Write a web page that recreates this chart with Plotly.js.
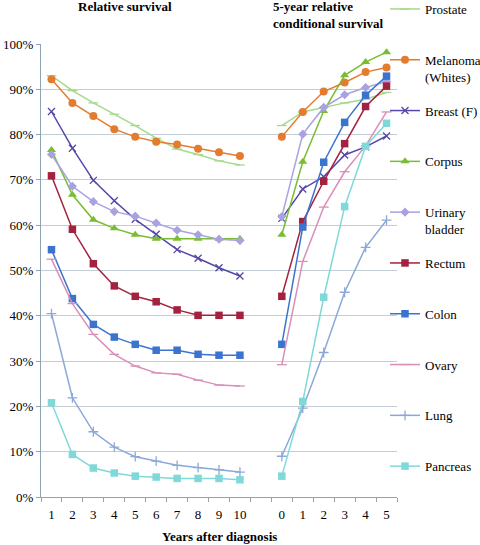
<!DOCTYPE html>
<html>
<head>
<meta charset="utf-8">
<script src="https://cdn.plot.ly/plotly-3.0.1.min.js"></script>
<style>html,body{margin:0;padding:0;background:#fff;}#chart{width:480px;height:545px;}</style>
</head>
<body>
<div id="chart"></div>
<script>
// Categories
const yearsSurvival = ['1','2','3','4','5','6','7','8','9','10'];
const yearsConditional = ['0','1','2','3','4','5'];

// Series names (legend)
const seriesNames = ['Prostate','Melanoma<br>(Whites)','Breast (F)','Corpus','Urinary<br>bladder','Rectum','Colon','Ovary','Lung','Pancreas'];

// Relative survival (%) at years 1..10
const relProstate = [93.0, 89.7, 87.0, 84.5, 82.0, 79.2, 76.8, 75.6, 74.2, 73.3];
const relMelanoma = [92.2, 87.0, 84.1, 81.2, 79.5, 78.4, 77.8, 76.9, 76.1, 75.3];
const relBreast   = [85.1, 77.0, 69.9, 65.4, 61.3, 58.0, 54.6, 52.7, 50.6, 48.8];
const relCorpus   = [76.6, 66.7, 61.2, 59.3, 57.9, 57.0, 57.0, 57.0, 57.0, 57.0];
const relUrinary  = [75.6, 68.6, 65.2, 63.0, 62.0, 60.5, 58.9, 57.9, 56.9, 56.6];
const relRectum   = [70.9, 59.1, 51.5, 46.6, 44.3, 43.1, 41.3, 40.1, 40.1, 40.1];
const relColon    = [54.6, 43.8, 38.1, 35.3, 33.7, 32.4, 32.4, 31.5, 31.3, 31.3];
const relOvary    = [52.5, 42.7, 35.9, 31.5, 28.9, 27.4, 27.1, 25.8, 24.7, 24.5];
const relLung     = [40.5, 21.9, 14.4, 11.0, 8.9, 7.9, 7.0, 6.5, 6.0, 5.5];
const relPancreas = [20.8, 9.4, 6.4, 5.3, 4.6, 4.4, 4.1, 4.1, 4.1, 3.8];

// 5-year relative conditional survival (%) at years survived 0..5
const condProstate = [82.0, 85.0, 86.0, 87.0, 87.8, 89.3];
const condMelanoma = [79.5, 85.0, 89.5, 91.5, 93.8, 94.8];
const condBreast   = [61.5, 68.0, 70.7, 75.5, 77.3, 79.7];
const condCorpus   = [57.9, 74.0, 85.2, 93.1, 96.0, 98.2];
const condUrinary  = [61.9, 80.1, 86.0, 88.8, 90.4, 91.7];
const condRectum   = [44.3, 60.8, 69.7, 78.0, 86.2, 90.7];
const condColon    = [33.7, 59.6, 73.9, 82.7, 88.7, 92.9];
const condOvary    = [29.2, 52.0, 64.0, 71.8, 77.5, 85.0];
const condLung     = [9.0, 19.6, 31.9, 45.2, 55.1, 61.1];
const condPancreas = [4.6, 21.1, 44.1, 64.1, 77.4, 82.5];

const relAll  = [relProstate, relMelanoma, relBreast, relCorpus, relUrinary, relRectum, relColon, relOvary, relLung, relPancreas];
const condAll = [condProstate, condMelanoma, condBreast, condCorpus, condUrinary, condRectum, condColon, condOvary, condLung, condPancreas];

// Styles
const colors  = ['#a6d98c','#e37c2f','#5447a8','#78bd32','#a8a2e0','#a3223f','#3a74cf','#d98eb8','#8ca8d8','#7fd9d9'];
const symbols = ['line-ew','circle','x-thin','triangle-up','diamond','square','square','line-ew','cross-thin','square'];
const msizes  = [7, 8, 7, 8, 7, 7.5, 7.5, 7, 7, 7.5];

// Category positions: left block, one empty slot, right block
const nLeft = yearsSurvival.length;
const catIndex = [];
const catLabels = [];
yearsSurvival.forEach((c, i) => { catIndex.push(i); catLabels.push(c); });
yearsConditional.forEach((c, j) => { catIndex.push(nLeft + 1 + j); catLabels.push(c); });
const xs = [];
for (let i = 0; i < nLeft; i++) xs.push(i);
xs.push(nLeft); // gap slot
for (let j = 0; j < yearsConditional.length; j++) xs.push(nLeft + 1 + j);
const nCats = nLeft + 1 + yearsConditional.length;
const boundaries = [];
for (let k = 0; k <= nCats; k++) boundaries.push(k - 0.5);

const serif = 'Liberation Serif';

const traces = seriesNames.map((name, s) => {
  const ys = relAll[s].concat([null]).concat(condAll[s]);
  const isThin = ['line-ew','x-thin','cross-thin'].includes(symbols[s]);
  return {
    type: 'scatter', mode: 'lines+markers',
    name: name + (name.includes('<br>') ? '' : '<br>\u00a0'),
    legendgroup: 'g' + s,
    x: xs, y: ys, connectgaps: false,
    line: {color: colors[s], width: 1.5},
    marker: {symbol: symbols[s], size: msizes[s], color: colors[s],
             line: {color: colors[s], width: isThin ? 1.3 : 0}},
    hoverinfo: 'skip'
  };
});

// pixel helpers for placing text boxes
const L = 41, R = 397, T = 44, B = 497;
const px2x = p => (p - L) / (R - L);
const px2y = p => (B - p) / (B - T);

const layout = {
  width: 480, height: 545,
  margin: {l: L, r: 480 - R, t: T, b: 545 - B, autoexpand: false},
  paper_bgcolor: '#fff', plot_bgcolor: '#fff',
  font: {family: serif, size: 13, color: '#000'},
  showlegend: true,
  legend: {
    x: px2x(385), xanchor: 'left', y: px2y(-6), yanchor: 'top',
    traceorder: 'grouped', tracegroupgap: 14, valign: 'top',
    maxheight: 545,
    bgcolor: 'rgba(0,0,0,0)', borderwidth: 0,
    font: {family: serif, size: 13, color: '#000'}
  },
  xaxis: {
    type: 'linear', range: [-0.5, nCats - 0.5], fixedrange: true,
    tickmode: 'array', tickvals: catIndex, ticktext: catLabels,
    ticks: '', showgrid: false, zeroline: false, ticklabelstandoff: 5,
    showline: true, linecolor: '#8ea3b3', linewidth: 1,
    tickfont: {family: serif, size: 13, color: '#000'},
    minor: {tickmode: 'array', tickvals: boundaries, ticks: 'outside', ticklen: 4, tickcolor: '#8ea3b3', tickwidth: 1, showgrid: false}
  },
  yaxis: {
    range: [0, 100], fixedrange: true, tickmode: 'linear', tick0: 0, dtick: 10,
    ticksuffix: '%', ticks: 'outside', ticklen: 4, tickcolor: '#8ea3b3',
    showgrid: true, gridcolor: '#c3cdd4', gridwidth: 1, zeroline: false,
    showline: true, linecolor: '#8ea3b3', linewidth: 1,
    tickfont: {family: serif, size: 13, color: '#000'}
  },
  annotations: [
    {text: '<b>Relative survival</b>', xref: 'paper', yref: 'paper', x: px2x(124.5), y: px2y(6),
     xanchor: 'center', yanchor: 'middle', showarrow: false, font: {family: serif, size: 13, color: '#000'}},
    {text: '<b>5-year relative<br>conditional survival</b>', xref: 'paper', yref: 'paper', x: px2x(271), y: px2y(14.5),
     xanchor: 'left', yanchor: 'middle', align: 'left', showarrow: false, font: {family: serif, size: 13, color: '#000'}},
    {text: '<b>Years after diagnosis</b>', xref: 'paper', yref: 'paper', x: px2x(219), y: px2y(536),
     xanchor: 'center', yanchor: 'middle', showarrow: false, font: {family: serif, size: 13, color: '#000'}}
  ]
};

Plotly.newPlot('chart', traces, layout, {displayModeBar: false, staticPlot: true});
</script>
</body>
</html>
